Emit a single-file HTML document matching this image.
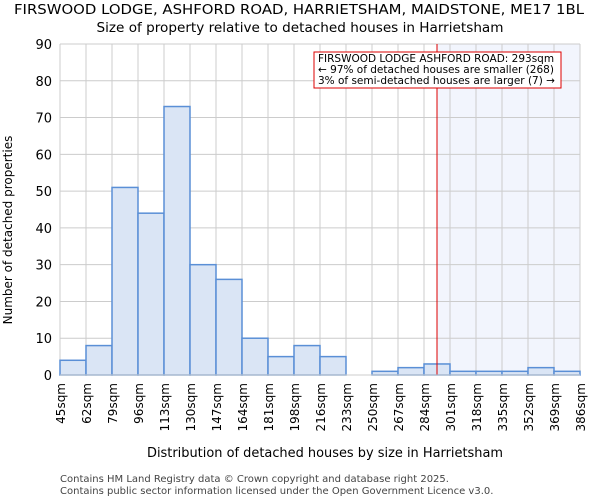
<!DOCTYPE html>
<html><head><meta charset="utf-8"><style>
body{margin:0;background:#fff;font-family:"DejaVu Sans","Liberation Sans",sans-serif}
</style></head><body>
<svg id="c" width="600" height="500" xmlns="http://www.w3.org/2000/svg" font-family="DejaVu Sans, Liberation Sans, sans-serif">
<text x="299" y="14" text-anchor="middle" font-size="13" textLength="570" lengthAdjust="spacingAndGlyphs">FIRSWOOD LODGE, ASHFORD ROAD, HARRIETSHAM, MAIDSTONE, ME17 1BL</text>
<text x="300" y="32" text-anchor="middle" font-size="13" textLength="407" lengthAdjust="spacingAndGlyphs">Size of property relative to detached houses in Harrietsham</text>
<g id="plot"></g>
<text x="325" y="457" text-anchor="middle" font-size="13" textLength="356" lengthAdjust="spacingAndGlyphs">Distribution of detached houses by size in Harrietsham</text>
<text transform="translate(12,230) rotate(-90)" text-anchor="middle" font-size="12">Number of detached properties</text>
<text x="60" y="482" font-size="10" fill="#444">Contains HM Land Registry data © Crown copyright and database right 2025.</text>
<text x="60" y="494" font-size="10" fill="#444">Contains public sector information licensed under the Open Government Licence v3.0.</text>
</svg>
<script>
const categories=["45sqm","62sqm","79sqm","96sqm","113sqm","130sqm","147sqm","164sqm","181sqm","198sqm","216sqm","233sqm","250sqm","267sqm","284sqm","301sqm","318sqm","335sqm","352sqm","369sqm","386sqm"];
const counts=[4,8,51,44,73,30,26,10,5,8,5,0,1,2,3,1,1,1,2,1];
const yTicks=[0,10,20,30,40,50,60,70,80,90];
const markerBin=14.5;
const NS="http://www.w3.org/2000/svg";
const L=60,R=580,T=44,B=375,yMax=90;
const bw=(R-L)/counts.length;
const xs=i=>L+i*bw;
const ys=v=>B-(v/yMax)*(B-T);
const g=document.getElementById('plot');
function mk(t,a){const e=document.createElementNS(NS,t);for(const k in a)e.setAttribute(k,a[k]);g.appendChild(e);return e;}
const mx=xs(markerBin);
let sh=mk('rect',{x:mx,y:T,width:R-mx,height:B-T,fill:'#f2f5fd'});


yTicks.forEach(v=>{
 let l=mk('line',{x1:L,x2:R,y1:ys(v),y2:ys(v),stroke:'#ccc','stroke-width':1});
 
 
 let t=mk('text',{x:L-8,y:ys(v)+5,'text-anchor':'end','font-size':13});
 t.textContent=v;
 
 
});
categories.forEach((c,i)=>{
 let l=mk('line',{x1:xs(i),x2:xs(i),y1:T,y2:B,stroke:'#ccc','stroke-width':1});
 
 
 let t=mk('text',{transform:`translate(${xs(i)+5},${B+8}) rotate(-90)`,'text-anchor':'end','font-size':12});
 t.textContent=c;
 
 
});
counts.forEach((v,i)=>{
 if(v<=0)return;
 let r=mk('rect',{x:xs(i),y:ys(v),width:bw,height:B-ys(v),fill:'#dae5f5',stroke:'#5a8fd6','stroke-width':1.5});
 
 
});
let ml=mk('line',{x1:mx,x2:mx,y1:T,y2:B,stroke:'#d00','stroke-width':1});


let ax=mk('line',{x1:L,x2:R,y1:B,y2:B,stroke:'#ccc','stroke-width':1});


let box=mk('rect',{x:314,y:52,width:247,height:36,fill:'#fff',stroke:'#d00','stroke-width':1});


["FIRSWOOD LODGE ASHFORD ROAD: 293sqm","← 97% of detached houses are smaller (268)","3% of semi-detached houses are larger (7) →"].forEach((s,i)=>{
 let t=mk('text',{x:318,y:62+i*11,'font-size':10.5});
 t.textContent=s;
 
 
});
</script>
</body></html>
